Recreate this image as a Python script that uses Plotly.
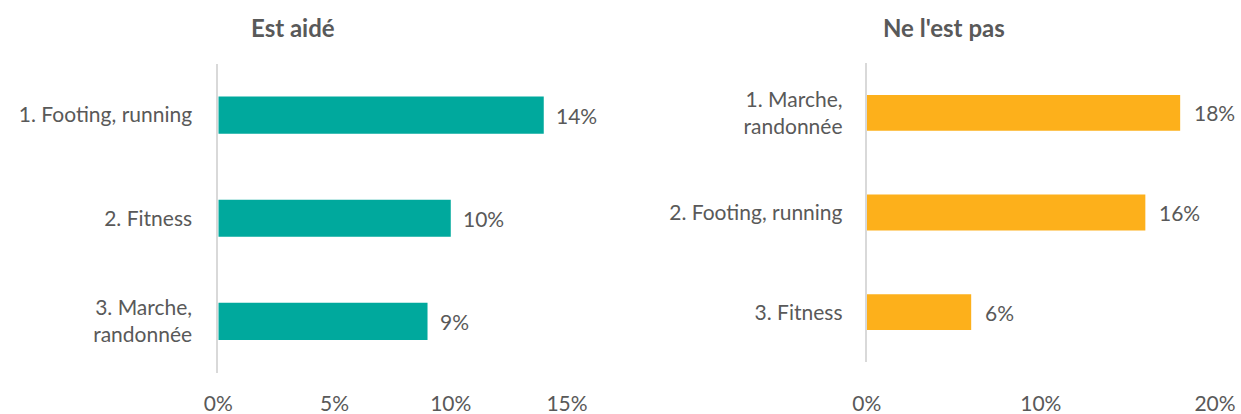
import plotly.graph_objects as go

# Data
left_title = "Est aidé"
left_categories = ["1. Footing, running", "2. Fitness", "3. Marche,<br>randonnée"]
left_values = [14, 10, 9]
left_ticks = [0, 5, 10, 15]

right_title = "Ne l'est pas"
right_categories = ["1. Marche,<br>randonnée", "2. Footing, running", "3. Fitness"]
right_values = [18, 16, 6]
right_ticks = [0, 10, 20]

TEAL = "#00A99D"
ORANGE = "#FDB01B"
TXT = "#595959"
FONT = "Lato"
FS = 21
W, H = 1241, 414

fig = go.Figure()

fig.add_trace(go.Bar(
    x=left_values, y=left_categories, orientation="h",
    marker=dict(color=TEAL, line=dict(width=0)), width=0.36,
    xaxis="x", yaxis="y", hoverinfo="skip",
))
fig.add_trace(go.Bar(
    x=right_values, y=right_categories, orientation="h",
    marker=dict(color=ORANGE, line=dict(width=0)), width=0.36,
    xaxis="x2", yaxis="y2", hoverinfo="skip",
))

annotations = []
for c, v in zip(left_categories, left_values):
    annotations.append(dict(x=v, y=c, xref="x", yref="y", text=f"{v}%",
                            showarrow=False, xanchor="left", xshift=10,
                            font=dict(family=FONT, size=FS, color=TXT)))
for c, v in zip(right_categories, right_values):
    annotations.append(dict(x=v, y=c, xref="x2", yref="y2", text=f"{v}%",
                            showarrow=False, xanchor="left", xshift=12,
                            font=dict(family=FONT, size=FS, color=TXT)))
annotations.append(dict(x=293 / W, y=1 - 28 / H, xref="paper", yref="paper",
                        text=f"<b>{left_title}</b>", showarrow=False,
                        xanchor="center", yanchor="middle",
                        font=dict(family=FONT, size=24, color=TXT)))
annotations.append(dict(x=944 / W, y=1 - 28 / H, xref="paper", yref="paper",
                        text=f"<b>{right_title}</b>", showarrow=False,
                        xanchor="center", yanchor="middle",
                        font=dict(family=FONT, size=24, color=TXT)))

xcommon = dict(showgrid=False, zeroline=False, showline=False, ticks="",
               tickfont=dict(family=FONT, size=FS, color=TXT),
               fixedrange=True, automargin=False, tickmode="array")
ycommon = dict(showgrid=False, zeroline=False, showline=True, linecolor="#D9D9D9",
               linewidth=2, ticks="", autorange="reversed",
               tickfont=dict(family=FONT, size=FS, color=TXT), fixedrange=True,
               automargin=False)

fig.update_layout(
    width=W, height=H,
    margin=dict(l=0, r=0, t=0, b=0, autoexpand=False),
    paper_bgcolor="white", plot_bgcolor="white",
    showlegend=False,
    font=dict(family=FONT, color=TXT),
    annotations=annotations,
    xaxis=dict(domain=[218.3 / W, 567 / W], range=[0, 15], tickvals=left_ticks,
               ticktext=[f"{t}%" for t in left_ticks],
               anchor="y", ticklabelstandoff=16, **xcommon),
    yaxis=dict(domain=[1 - 373 / H, 1 - 63.5 / H], anchor="x",
               ticklabelstandoff=20, **ycommon),
    xaxis2=dict(domain=[866.7 / W, 1215 / W], range=[0, 20], tickvals=right_ticks,
                ticktext=[f"{t}%" for t in right_ticks],
                anchor="y2", ticklabelstandoff=27, **xcommon),
    yaxis2=dict(domain=[1 - 362 / H, 1 - 63 / H], anchor="x2",
                ticklabelstandoff=18, **ycommon),
)

fig.write_html(
    "out.html",
    config={"displayModeBar": False, "staticPlot": True},
    post_script="document.body.style.margin='0';document.body.style.overflow='hidden';",
)
